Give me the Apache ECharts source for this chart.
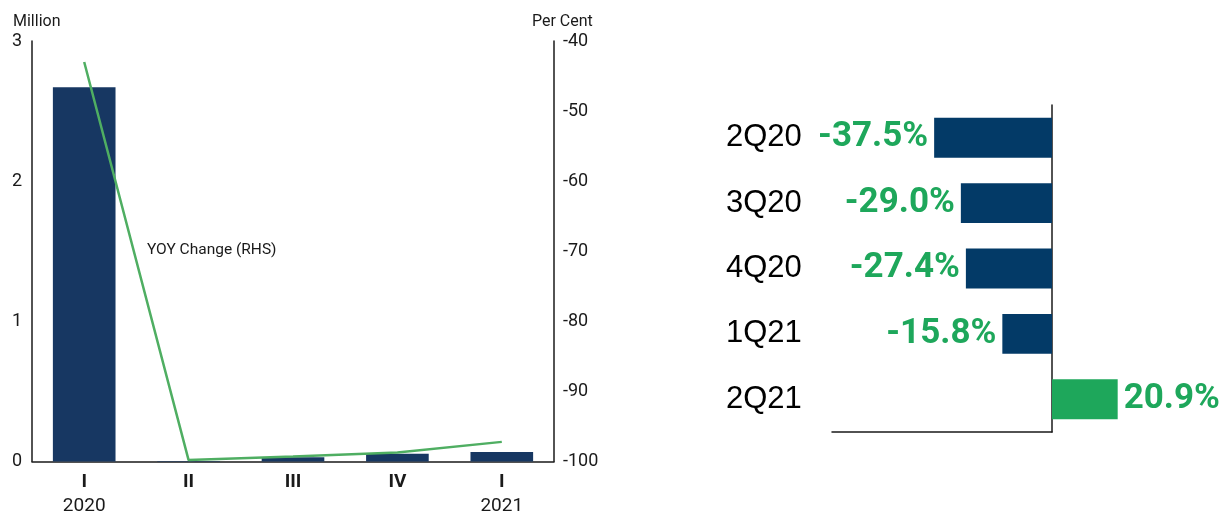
<!DOCTYPE html>
<html>
<head>
<meta charset="utf-8">
<script src="https://cdn.jsdelivr.net/npm/echarts@6/dist/echarts.min.js"></script>
<style>
  html, body { margin: 0; padding: 0; background: #fff; }
  #chart { width: 1232px; height: 516px; }
</style>
</head>
<body>
<div id="chart"></div>
<script>
// Left panel: quarterly volume (million, bars) and YOY change (per cent, line)
const quarters = ['I', 'II', 'III', 'IV', 'I'];
const years = ['2020', '', '', '', '2021'];
const volumeMillion = [2.67, 0.003, 0.03, 0.055, 0.068];
const yoyChange = [-43.0, -99.8, -99.3, -98.7, -97.2];

// Right panel: growth by quarter (%)
const growthQuarters = ['2Q20', '3Q20', '4Q20', '1Q21', '2Q21'];
const growthPct = [-37.5, -29.0, -27.4, -15.8, 20.9];

const NAVY = '#173762';
const NAVY_R = '#033a67';
const GREEN = '#1ea75b';
const LINE_GREEN = '#4fae62';
const INK = '#1a1a1a';
const FONT = 'Roboto, "Noto Sans", sans-serif';
const LABEL_FONT = '"Liberation Sans", Arial, sans-serif';

const leftCats = quarters.map((q, i) => years[i] ? q + '\n' + years[i] : q);

const chart = echarts.init(document.getElementById('chart'), null, { renderer: 'canvas' });

chart.setOption({
  animation: false,
  backgroundColor: '#fff',
  grid: [
    { left: 32, right: 678, top: 41, bottom: 54 },
    { left: 832, right: 180, top: 105, bottom: 84 }
  ],
  xAxis: [
    {
      gridIndex: 0,
      type: 'category',
      data: leftCats,
      axisLine: { lineStyle: { color: INK, width: 1.5 } },
      axisTick: { show: false },
      axisLabel: {
        margin: 9,
        interval: 0,
        formatter: function (v) {
          const parts = v.split('\n');
          return '{q|' + parts[0] + '}' + (parts[1] ? '\n{y|' + parts[1] + '}' : '');
        },
        rich: {
          q: { fontFamily: FONT, fontWeight: 'bold', fontSize: 19, color: INK, lineHeight: 24 },
          y: { fontFamily: FONT, fontSize: 19, color: INK, lineHeight: 24 }
        }
      }
    },
    {
      gridIndex: 1,
      type: 'value',
      min: -70,
      max: 0,
      axisLine: { show: true, onZero: false, lineStyle: { color: INK, width: 1.5 } },
      axisTick: { show: false },
      axisLabel: { show: false },
      splitLine: { show: false }
    }
  ],
  yAxis: [
    {
      gridIndex: 0,
      type: 'value',
      min: 0,
      max: 3,
      interval: 1,
      name: 'Million',
      nameLocation: 'end',
      nameGap: 11,
      nameTextStyle: { fontFamily: FONT, fontSize: 16, color: INK, align: 'left', padding: [0, 0, 0, -19] },
      axisLine: { show: true, lineStyle: { color: INK, width: 1.5 } },
      axisTick: { show: false },
      splitLine: { show: false },
      axisLabel: { fontFamily: FONT, fontSize: 18, color: INK, margin: 10 }
    },
    {
      gridIndex: 0,
      type: 'value',
      position: 'right',
      min: -100,
      max: -40,
      interval: 10,
      name: 'Per Cent',
      nameLocation: 'end',
      nameGap: 11,
      nameTextStyle: { fontFamily: FONT, fontSize: 16, color: INK, align: 'left', padding: [0, 0, 0, -22] },
      axisLine: { show: true, lineStyle: { color: INK, width: 1.5 } },
      axisTick: { show: false },
      splitLine: { show: false },
      axisLabel: { fontFamily: FONT, fontSize: 18, color: INK, margin: 9 }
    },
    {
      gridIndex: 1,
      type: 'category',
      inverse: true,
      data: growthQuarters,
      axisLine: { show: false },
      axisTick: { show: false },
      axisLabel: { fontFamily: LABEL_FONT, fontSize: 31, color: '#000', align: 'left', margin: 106 }
    },
    {
      gridIndex: 1,
      type: 'category',
      inverse: true,
      position: 'right',
      data: growthQuarters,
      axisLine: { show: true, lineStyle: { color: INK, width: 1.5 } },
      axisTick: { show: false },
      axisLabel: { show: false }
    }
  ],
  series: [
    {
      type: 'bar',
      xAxisIndex: 0,
      yAxisIndex: 0,
      data: volumeMillion,
      barWidth: '60%',
      itemStyle: { color: NAVY }
    },
    {
      type: 'line',
      xAxisIndex: 0,
      yAxisIndex: 1,
      data: yoyChange,
      showSymbol: false,
      lineStyle: { color: LINE_GREEN, width: 2.5 },
      z: 5
    },
    {
      type: 'bar',
      xAxisIndex: 1,
      yAxisIndex: 2,
      clip: false,
      barWidth: '61%',
      data: growthPct.map(v => ({
        value: v,
        itemStyle: { color: v < 0 ? NAVY_R : GREEN },
        label: { position: v < 0 ? 'left' : 'right' }
      })),
      label: {
        show: true,
        distance: 6,
        fontFamily: FONT,
        fontWeight: 'bold',
        fontSize: 35,
        color: GREEN,
        formatter: p => p.value.toFixed(1) + '%'
      }
    }
  ],
  graphic: [
    {
      type: 'text',
      left: 147,
      top: 242,
      style: { text: 'YOY Change (RHS)', fontFamily: FONT, fontSize: 15.5, fill: INK }
    }
  ]
});
</script>
</body>
</html>
